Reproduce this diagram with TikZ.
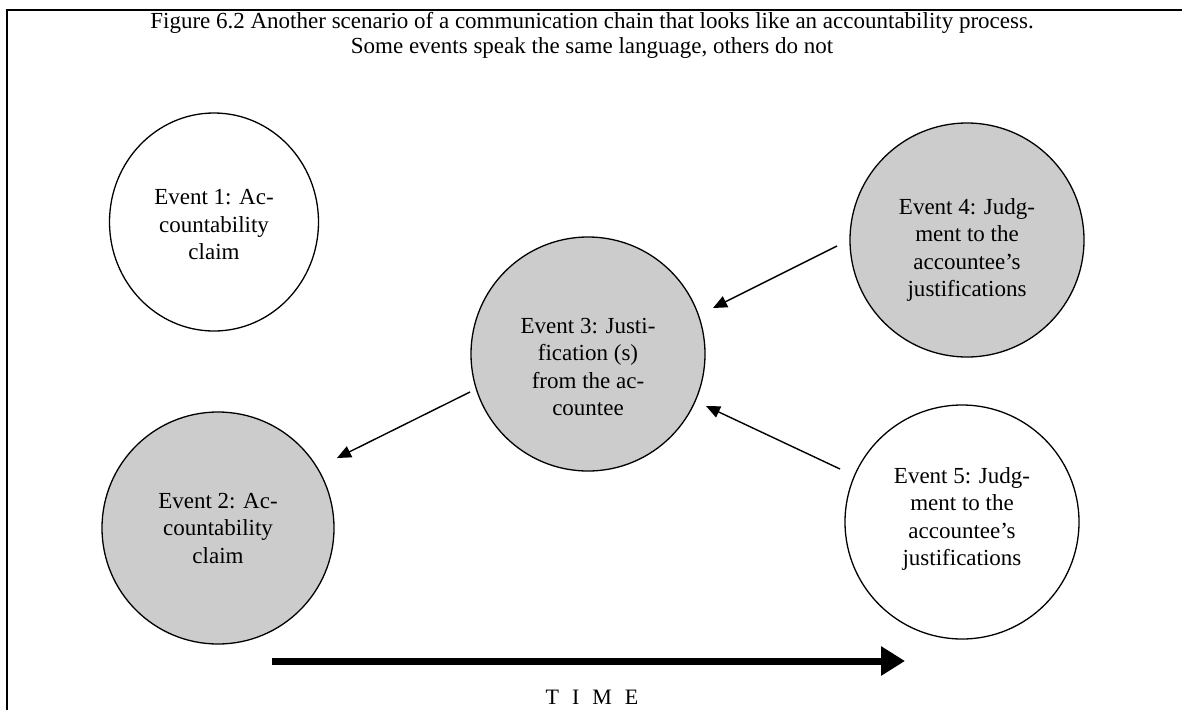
\documentclass[tikz,border=0pt]{standalone}
\usepackage{fontspec}
\setmainfont{Liberation Serif}
\usetikzlibrary{arrows.meta,calc,shapes.geometric}
\begin{document}
\begin{tikzpicture}[x=1pt,y=-1pt,
  event/.style={circle,draw,line width=1.3pt,inner sep=0pt},
  shaded/.style={event,fill=black!20},
  plain/.style={event,fill=white},
  txt/.style={align=center,inner sep=0pt,font=\fontsize{23}{27.5}\selectfont},
  link/.style={line width=1.4pt,-{Triangle[length=14pt,width=12pt]}},
  timeline/.style={line width=7pt,-{Triangle[length=24pt,width=28pt]}},
]
\useasboundingbox (0,0) rectangle (1182,710);
% open frame: left and top rules only
\draw[line width=2pt] (7,710) -- (7,10) -- (1182,10);

% caption
\node[align=center,font=\fontsize{23}{25}\selectfont] (title) at (592,35)
  {Figure 6.2 Another scenario of a communication chain that looks like an accountability process.\\
   Some events speak the same language, others do not};

% events
\node[plain,ellipse,minimum width=209pt,minimum height=218pt] (e1) at (214,222) {};
\node[shaded,minimum size=232pt] (e2) at (218,528) {};
\node[shaded,minimum size=234pt] (e3) at (588,354) {};
\node[shaded,minimum size=234pt] (e4) at (967,240) {};
\node[plain,minimum size=234pt]  (e5) at (962,522) {};

% event texts
\node[txt] (t1) at ($(e1)+(0,3)$)  {Event 1: Ac-\\countability\\claim};
\node[txt] (t2) at ($(e2)+(0,0)$)  {Event 2: Ac-\\countability\\claim};
\node[txt] (t3) at ($(e3)+(0,13)$) {Event 3: Justi-\\fication (s)\\from the ac-\\countee};
\node[txt] (t4) at ($(e4)+(0,10)$) {Event 4: Judg-\\ment to the\\accountee’s\\justifications};
\node[txt] (t5) at ($(e5)+(0,-3)$) {Event 5: Judg-\\ment to the\\accountee’s\\justifications};

% connectors (free-floating between the circles)
\draw[link] ($(e3)+(-118,38)$) -- ($(e2)+(119,-70)$);
\draw[link] ($(e4)+(-130,6)$) -- ($(e3)+(125,-46)$);
\draw[link] ($(e5)+(-122,-53)$) -- ($(e3)+(118,52)$);

% time axis
\coordinate (a0) at (272,661);
\coordinate (a1) at (905,661);
\draw[timeline] (a0) -- (a1);
\node[font=\fontsize{22}{24}\selectfont] (time) at (592,697)
  {T\hspace{13pt}I\hspace{13pt}M\hspace{13pt}E};
\end{tikzpicture}
\end{document}
